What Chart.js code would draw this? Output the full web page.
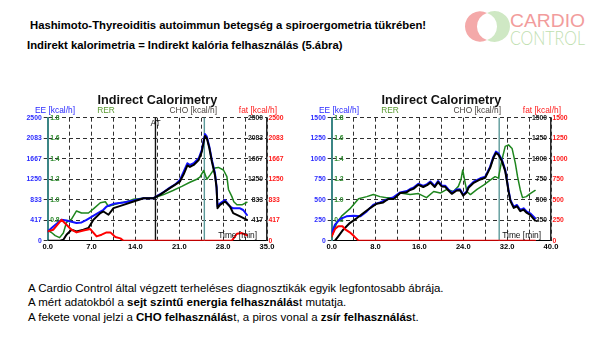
<!DOCTYPE html>
<html>
<head>
<meta charset="utf-8">
<script src="https://cdn.jsdelivr.net/npm/chart.js@4"></script>
<style>
    html, body { margin: 0; padding: 0; background: #fff; }
    body { width: 600px; height: 350px; position: relative; overflow: hidden;
           font-family: "Liberation Sans", Arial, sans-serif; color: #000; }
    .head { position: absolute; font-size: 11.3px; font-weight: bold; line-height: 14px; white-space: nowrap; }
    .foot { position: absolute; left: 28px; top: 281px; font-size: 11.5px; line-height: 14.3px; white-space: nowrap; }
    canvas { position: absolute; }
    #logo { position: absolute; left: 455px; top: 0; }
</style>
</head>
<body>
<div class="head" style="left:30px; top:18px">Hashimoto-Thyreoiditis autoimmun betegség a spiroergometria tükrében!</div>
<div class="head" style="left:27px; top:38px">Indirekt kalorimetria = Indirekt kalória felhasználás (5.ábra)</div>

<svg id="logo" width="140" height="55" viewBox="0 0 140 55">
    <path d="M32,13 A15.14,15.14 0 1,0 32,40 A14.1,14.1 0 0,1 32,13 Z" fill="#f4a9a9"/>
    <path d="M32,13 A15.46,15.46 0 1,1 32,40 A14.1,14.1 0 0,0 32,13 Z" fill="#cfe8c4"/>
    <text x="55" y="27" font-family="Liberation Sans, Arial, sans-serif" font-size="19" fill="#f29c9c" textLength="75" lengthAdjust="spacingAndGlyphs">CARDIO</text>
    <text x="55" y="45" font-family="Lato, Liberation Sans, sans-serif" font-weight="300" font-size="19" fill="#bfe0b0" textLength="75" lengthAdjust="spacingAndGlyphs">CONTROL</text>
</svg>

<canvas id="leftChart" width="300" height="172" style="left:0; top:88px"></canvas>
<canvas id="rightChart" width="300" height="172" style="left:284px; top:88px"></canvas>

<div class="foot">
A Cardio Control által végzett terheléses diagnosztikák egyik legfontosabb ábrája.<br>
A mért adatokból a <b>sejt szintű energia felhasználás</b>t mutatja.<br>
A fekete vonal jelzi a <b>CHO felhasználás</b>t, a piros vonal a <b>zsír felhasználás</b>t.
</div>

<script>
// ---- left chart (x: 0-35 min, kcal/h 0-2500) ----
const leftTimeEE = [0, 0.9, 2.2, 3.0, 4.6, 5.4, 6.2, 7.8, 8.9, 9.4, 10.5, 12.1, 13.7, 15.3, 16.9, 18.5, 19.5, 20.3, 21.1, 21.7, 22.3, 22.7, 23.3, 24.1, 24.6, 25.0, 25.1, 25.4, 25.8, 26.2, 26.7, 26.95, 27.1, 27.5, 28.3, 29.1, 29.6, 30.7, 31.2, 31.8];
const leftEE     = [189, 290, 425, 412, 358, 371, 425, 547, 628, 695, 749, 776, 817, 864, 864, 990, 1080, 1140, 1234, 1403, 1574, 1539, 1574, 1675, 1844, 2114, 2169, 2114, 1911, 1641, 1370, 1100, 700, 760, 827, 691, 659, 659, 624, 522];

const leftTimeCHO = [0, 2.0, 2.5, 3.0, 3.8, 4.6, 5.7, 6.5, 7.3, 8.4, 8.9, 9.7, 10.5, 12.1, 13.7, 15.3, 16.9, 17.9, 19.5, 21.1, 21.7, 22.3, 22.7, 23.3, 24.1, 24.6, 25.0, 25.1, 25.4, 25.8, 26.2, 26.7, 26.95, 27.1, 27.5, 28.3, 29.1, 29.6, 30.7, 31.8];
const leftCHO     = [0, 0, 20, 122, 223, 189, 223, 257, 425, 560, 594, 527, 662, 729, 797, 864, 864, 932, 1067, 1202, 1350, 1530, 1500, 1540, 1640, 1810, 2080, 2130, 2080, 1880, 1610, 1330, 1080, 662, 729, 797, 695, 560, 493, 425];

const leftTimeRER = [0, 0.6, 1.2, 1.9, 2.5, 3.0, 3.8, 4.6, 5.4, 6.5, 7.3, 8.4, 9.2, 9.7, 10.5, 11.6, 12.6, 13.7, 15.3, 16.9, 18.5, 20.0, 21.4, 22.7, 23.8, 24.3, 24.9, 25.4, 25.9, 26.7, 27.25, 28.05, 28.6, 28.85, 29.4, 29.7, 30.2, 31.0, 31.8];
const leftRER     = [0.70, 0.68, 0.65, 0.63, 0.675, 0.78, 0.81, 0.89, 0.87, 0.87, 0.91, 0.97, 0.98, 0.935, 0.95, 0.97, 0.98, 1.005, 1.015, 1.015, 1.05, 1.09, 1.13, 1.17, 1.20, 1.22, 1.285, 1.20, 1.24, 1.31, 1.315, 1.29, 1.225, 1.10, 1.03, 0.98, 0.95, 0.95, 0.975];

const leftTimeFat = [0, 0.9, 2.2, 3.0, 3.8, 4.6, 5.7, 6.8, 7.8, 8.6, 9.4, 10.0, 10.8, 11.6, 12.1, 29.4, 30.2, 31.0, 31.8];
const leftFat     = [189, 223, 425, 324, 223, 169, 209, 236, 88, 122, 169, 169, 74, 47, 0, 0, 142, 155, 110];

const leftMarkers      = [17.2, 25.0];
const leftMarkerLabels = ['AT', ''];

// ---- right chart (x: 0-40 min, kcal/h 0-1500) ----
const rightTimeEE = [0, 0.6, 1.5, 2.7, 4.0, 5.2, 6.4, 7.6, 8.8, 10.0, 11.3, 12.5, 13.7, 14.3, 14.9, 15.8, 16.7, 17.4, 18.0, 18.8, 19.4, 20.1, 20.7, 21.3, 21.9, 22.8, 23.4, 24.0, 24.6, 24.95, 25.9, 27.1, 28.0, 28.9, 29.5, 29.95, 30.4, 31.05, 31.65, 31.96, 32.25, 32.6, 33.2, 33.8, 34.4, 35.0, 35.6, 36.2, 37.1];
const rightEE     = [93, 195, 264, 297, 305, 297, 358, 439, 467, 500, 532, 589, 605, 630, 645, 695, 668, 690, 722, 668, 728, 672, 670, 625, 585, 625, 628, 562, 600, 659, 720, 761, 781, 903, 1025, 1086, 1066, 985, 863, 741, 619, 496, 415, 436, 375, 395, 354, 334, 273];

const rightTimeCHO = [0.6, 1.2, 2.1, 3.3, 4.6, 5.8, 7.0, 8.2, 9.4, 10.3, 11.3, 12.5, 13.7, 14.3, 14.9, 15.8, 16.7, 17.4, 18.0, 18.8, 19.4, 20.1, 20.7, 21.3, 21.9, 22.8, 23.4, 24.0, 24.6, 24.95, 25.9, 27.1, 28.0, 28.9, 29.5, 29.95, 30.4, 31.05, 31.65, 31.96, 32.25, 32.6, 33.2, 33.8, 34.4, 35.0, 35.6, 36.2, 37.1];
const rightCHO     = [0, 53, 134, 215, 276, 337, 398, 451, 467, 508, 508, 581, 592, 618, 632, 682, 655, 677, 708, 655, 714, 660, 657, 612, 572, 612, 615, 550, 588, 645, 706, 747, 767, 888, 1010, 1070, 1050, 970, 848, 726, 604, 482, 400, 420, 360, 378, 338, 316, 245];

const rightTimeRER = [0, 0.9, 1.8, 3.3, 4.9, 6.4, 7.6, 8.8, 10.0, 11.6, 12.5, 14.3, 15.8, 17.3, 18.6, 19.8, 21.0, 22.2, 23.1, 23.6, 23.9, 24.3, 24.65, 25.3, 26.5, 27.7, 28.9, 29.8, 30.4, 31.05, 31.65, 32.25, 32.9, 33.5, 33.9, 34.4, 34.8, 35.5, 36.2, 37.1];
const rightRER     = [0.636, 0.77, 0.84, 0.91, 1.01, 1.03, 1.05, 1.03, 1.02, 1.02, 1.065, 1.05, 1.06, 1.02, 1.08, 1.065, 1.10, 1.08, 1.13, 1.20, 1.29, 1.176, 1.08, 1.05, 1.10, 1.143, 1.19, 1.225, 1.21, 1.39, 1.52, 1.535, 1.50, 1.355, 1.225, 1.095, 1.02, 1.03, 1.06, 1.09];

const rightTimeFat = [0, 0.6, 1.2, 2.0, 2.4, 3.3, 4.1, 4.9, 37.1];
const rightFat     = [53, 142, 175, 175, 142, 102, 53, 0, 0];

const rightMarkers      = [30.55];
const rightMarkerLabels = [''];

const FONT = '"Liberation Sans", Arial, sans-serif';
const COLORS = {
    ee: '#1010ff', cho: '#000000', rer: '#1e861e', fat: '#ff0000',
    eeText: '#2a2aff', rerText: '#2f8a2f', rerTitle: '#5a9a32', choText: '#222222', choTitle: '#4a4440', fatText: '#ff1a1a',
    teal: '#3b8585', marker: '#5c9a9a', grid: '#303030'
};

Chart.defaults.font.family = FONT;

function toPoints(times, values) {
    return times.map((t, i) => ({ x: t, y: values[i] }));
}

// title, axis captions and marker labels drawn around the chart area
const captionPlugin = {
    id: 'captions',
    afterDraw(chart) {
        const { ctx, chartArea: a, scales } = chart;
        const cfg = chart.options.plugins.captions;
        ctx.save();
        ctx.textBaseline = 'middle';

        ctx.font = 'bold 12.7px ' + FONT;
        ctx.fillStyle = '#111';
        ctx.textAlign = 'center';
        ctx.fillText('Indirect Calorimetry', (a.left + a.right) / 2, a.top - 17.7);

        ctx.font = '8.4px ' + FONT;
        const capY = a.top - 7.5;
        ctx.textAlign = 'left';
        ctx.fillStyle = COLORS.eeText;
        ctx.fillText('EE [kcal/h]', a.left - 12.7, capY);
        ctx.fillStyle = COLORS.rerTitle;
        ctx.fillText('RER', a.left + 49.5, capY);
        ctx.textAlign = 'right';
        ctx.fillStyle = COLORS.choTitle;
        ctx.fillText('CHO [kcal/h]', a.right - 50, capY);
        ctx.fillStyle = COLORS.fatText;
        ctx.fillText('fat [kcal/h]', a.right + 10, capY);

        ctx.fillStyle = '#111';
        ctx.fillText('Time [min]', a.right - 10, a.bottom - 5);

        ctx.textAlign = 'center';
        cfg.markers.forEach((t, i) => {
            if (cfg.labels[i]) {
                ctx.fillText(cfg.labels[i], scales.x.getPixelForValue(t), a.top + 6);
            }
        });
        ctx.restore();
    }
};

function fixWidth(w) {
    return scale => {
        scale.width = w;
        scale.paddingTop = 0;
        scale.paddingBottom = 0;
    };
}

function makeChart(canvasId, s) {
    const ctx = document.getElementById(canvasId).getContext('2d');
    const tickFont = { size: 6.8, weight: 'bold' };

    const markerSets = s.markers.map((t, i) => ({
        label: 'marker' + i,
        data: [{ x: t, y: 0 }, { x: t, y: s.yMax }],
        borderColor: s.markerLabels[i] === 'AT' ? '#111' : COLORS.marker,
        borderWidth: 1.4,
        yAxisID: 'yEE'
    }));

    return new Chart(ctx, {
        type: 'line',
        data: {
            datasets: [{
                label: 'fat',
                data: toPoints(s.fatTime, s.fat),
                borderColor: COLORS.fat,
                borderWidth: 2,
                yAxisID: 'yFat'
            }, {
                label: 'CHO',
                data: toPoints(s.choTime, s.cho),
                borderColor: COLORS.cho,
                borderWidth: 2,
                yAxisID: 'yCHO'
            }, {
                label: 'EE',
                data: toPoints(s.eeTime, s.ee),
                borderColor: COLORS.ee,
                borderWidth: 2,
                yAxisID: 'yEE'
            }, {
                label: 'RER',
                data: toPoints(s.rerTime, s.rer),
                borderColor: COLORS.rer,
                borderWidth: 1.5,
                yAxisID: 'yRER'
            }, ...markerSets]
        },
        options: {
            responsive: false,
            animation: false,
            devicePixelRatio: 1,
            layout: { padding: { top: 29.7, left: 0, right: 0, bottom: 0 } },
            elements: { point: { radius: 0 }, line: { tension: 0, borderCapStyle: 'round', borderJoinStyle: 'round' } },
            plugins: {
                legend: { display: false },
                tooltip: { enabled: false },
                captions: { markers: s.markers, labels: s.markerLabels }
            },
            scales: {
                x: {
                    type: 'linear',
                    min: 0,
                    max: s.xMax,
                    ticks: {
                        count: 11,
                        autoSkip: false,
                        maxRotation: 0,
                        padding: 1.5,
                        color: '#000',
                        font: { size: 7.6, weight: 'bold' },
                        callback: (v, i) => (i % 2 === 0 ? Number(v).toFixed(1) : '')
                    },
                    grid: { color: COLORS.grid, lineWidth: 1, drawTicks: false },
                    border: { display: true, color: '#000', width: 1, dash: [4, 3] },
                    afterFit: scale => {
                        scale.height = 19.3;
                        scale.paddingLeft = 0;
                        scale.paddingRight = 0;
                    }
                },
                yRER: {
                    position: 'left',
                    weight: 0,
                    min: 0.6,
                    max: 1.8,
                    ticks: {
                        count: 7,
                        mirror: true,
                        padding: 2.5,
                        color: COLORS.rerText,
                        font: tickFont,
                        callback: v => (v < 0.7 ? '' : Number(v).toFixed(1))
                    },
                    grid: { drawOnChartArea: false, drawTicks: false },
                    border: { display: true, color: COLORS.teal, width: 2 },
                    afterFit: fixWidth(0)
                },
                yEE: {
                    position: 'left',
                    weight: 1,
                    min: 0,
                    max: s.yMax,
                    ticks: {
                        count: 7,
                        padding: 2,
                        color: COLORS.eeText,
                        font: tickFont,
                        callback: v => Math.round(v)
                    },
                    grid: { color: COLORS.grid, lineWidth: 1, tickLength: 4, tickColor: COLORS.grid },
                    border: { display: false, dash: [4, 3] },
                    afterFit: fixWidth(47.7)
                },
                yCHO: {
                    position: 'right',
                    weight: 0,
                    min: 0,
                    max: s.yMax,
                    ticks: {
                        count: 7,
                        mirror: true,
                        padding: -4,
                        color: COLORS.choText,
                        font: tickFont,
                        callback: v => (v < 1 ? '' : Math.round(v))
                    },
                    grid: { drawOnChartArea: false, drawTicks: false },
                    border: { display: true, color: '#2a2a2a', width: 1.5 },
                    afterFit: fixWidth(0)
                },
                yFat: {
                    position: 'right',
                    weight: 1,
                    min: 0,
                    max: s.yMax,
                    ticks: {
                        count: 7,
                        padding: 1.5,
                        color: COLORS.fatText,
                        font: tickFont,
                        callback: v => Math.round(v)
                    },
                    grid: { display: false, drawTicks: false },
                    border: { display: false },
                    afterFit: fixWidth(33)
                }
            }
        },
        plugins: [captionPlugin]
    });
}

makeChart('leftChart', {
    xMax: 35, yMax: 2500,
    eeTime: leftTimeEE, ee: leftEE,
    choTime: leftTimeCHO, cho: leftCHO,
    rerTime: leftTimeRER, rer: leftRER,
    fatTime: leftTimeFat, fat: leftFat,
    markers: leftMarkers, markerLabels: leftMarkerLabels
});

makeChart('rightChart', {
    xMax: 40, yMax: 1500,
    eeTime: rightTimeEE, ee: rightEE,
    choTime: rightTimeCHO, cho: rightCHO,
    rerTime: rightTimeRER, rer: rightRER,
    fatTime: rightTimeFat, fat: rightFat,
    markers: rightMarkers, markerLabels: rightMarkerLabels
});
</script>
</body>
</html>
